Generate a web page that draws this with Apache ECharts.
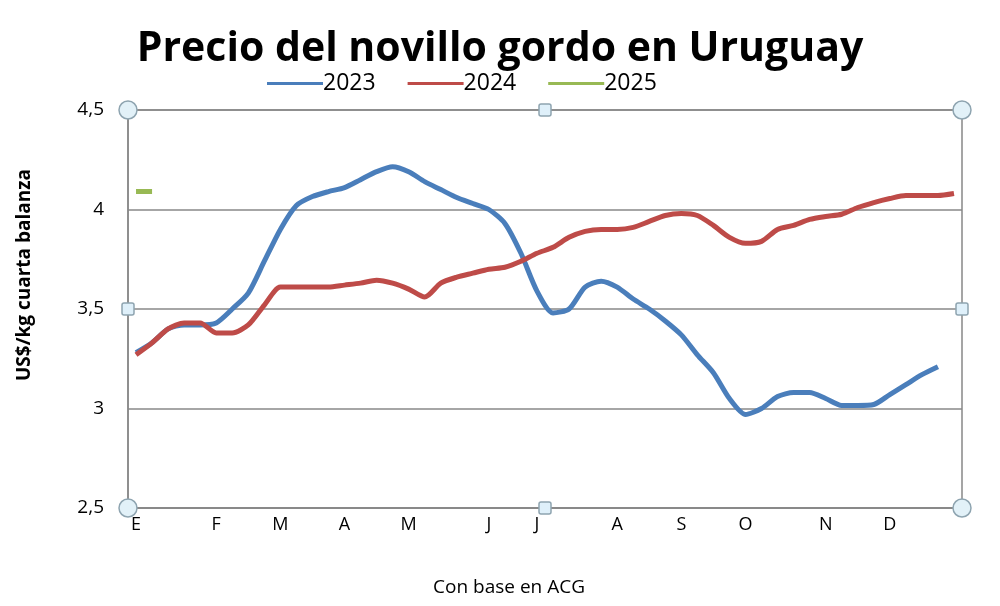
<!DOCTYPE html>
<html>
<head>
<meta charset="utf-8">
<script src="https://cdn.jsdelivr.net/npm/echarts@6/dist/echarts.min.js"></script>
<style>
  html, body { margin: 0; padding: 0; background: #fff; }
  #main { width: 1000px; height: 606px; }
</style>
</head>
<body>
<div id="main"></div>
<script>
// weekly positions 0..51, month letters on some weeks
var weeks = [];
for (var w = 0; w < 52; w++) weeks.push('S' + (w + 1));
var monthTicks = { 0: 'E', 5: 'F', 9: 'M', 13: 'A', 17: 'M', 22: 'J', 25: 'J', 30: 'A', 34: 'S', 38: 'O', 43: 'N', 47: 'D' };

var y2023 = [3.28, 3.33, 3.40, 3.42, 3.42, 3.43, 3.50, 3.58, 3.74, 3.90,
             4.02, 4.065, 4.09, 4.11, 4.15, 4.19, 4.215, 4.19, 4.14, 4.10,
             4.06, 4.03, 4.00, 3.93, 3.78, 3.59, 3.48, 3.50, 3.61, 3.64,
             3.61, 3.55, 3.50, 3.44, 3.37, 3.27, 3.18, 3.05, 2.97, 3.00,
             3.06, 3.08, 3.08, 3.05, 3.015, 3.015, 3.02, 3.07, 3.12, 3.17,
             3.21, null];
var y2024 = [3.27, 3.33, 3.40, 3.43, 3.43, 3.38, 3.38, 3.42, 3.52, 3.61,
             3.61, 3.61, 3.61, 3.62, 3.63, 3.645, 3.63, 3.60, 3.56, 3.63,
             3.66, 3.68, 3.70, 3.71, 3.74, 3.78, 3.81, 3.86, 3.89, 3.90,
             3.90, 3.91, 3.94, 3.97, 3.98, 3.97, 3.92, 3.86, 3.83, 3.84,
             3.90, 3.92, 3.95, 3.965, 3.976, 4.01, 4.035, 4.055, 4.07, 4.07,
             4.07, 4.08];
var y2025 = [4.09, 4.09];

var chart = echarts.init(document.getElementById('main'));

var L = 128, T = 110, R = 962, B = 508;
function handle(x, y, round) {
  if (round) {
    return { type: 'circle', shape: { cx: x, cy: y, r: 9 },
      style: { fill: '#e2f1f8', stroke: '#8ea4b0', lineWidth: 1.5 }, z: 100 };
  }
  return { type: 'rect', shape: { x: x - 6, y: y - 6, width: 12, height: 12, r: 2 },
    style: { fill: '#dff0fa', stroke: '#8ea4b0', lineWidth: 1.5 }, z: 100 };
}

chart.setOption({
  animation: false,
  title: {
    text: 'Precio del novillo gordo en Uruguay',
    left: 'center',
    top: 24,
    textStyle: { fontFamily: 'Open Sans', fontWeight: 'bold', fontSize: 41, color: '#000' }
  },
  legend: {
    top: 67,
    left: 262,
    icon: 'rect',
    itemWidth: 56,
    itemHeight: 3,
    itemGap: 32,
    textStyle: { fontFamily: 'Open Sans', fontSize: 23, color: '#000', padding: [0, 0, 0, -5] },
    data: ['2023', '2024', '2025']
  },
  grid: {
    left: L, top: T, right: 1000 - R, bottom: 606 - B,
    show: true, borderColor: '#888', borderWidth: 1.5
  },
  xAxis: {
    type: 'category',
    data: weeks,
    boundaryGap: true,
    name: 'Con base en ACG',
    nameLocation: 'middle',
    nameGap: 70,
    nameTextStyle: { fontFamily: 'Open Sans', fontSize: 19, color: '#000', padding: [0, 72, 0, 0] },
    axisLine: { lineStyle: { color: '#888', width: 1.5 } },
    axisTick: { show: false },
    axisLabel: {
      interval: 0,
      margin: 8,
      fontFamily: 'Open Sans',
      fontSize: 18,
      color: '#000',
      formatter: function (v, i) { return monthTicks[i] || ''; }
    }
  },
  yAxis: {
    type: 'value',
    min: 2.5,
    max: 4.5,
    interval: 0.5,
    name: 'US$/kg cuarta balanza',
    nameLocation: 'middle',
    nameGap: 94,
    nameTextStyle: { fontFamily: 'Open Sans', fontWeight: 'bold', fontSize: 19, color: '#000', padding: [0, 0, 0, 68] },
    axisLine: { show: true, lineStyle: { color: '#888', width: 1.5 } },
    axisTick: { show: false },
    splitLine: { lineStyle: { color: '#888', width: 1.5 } },
    axisLabel: {
      margin: 24,
      fontFamily: 'Open Sans',
      fontSize: 19,
      color: '#000',
      formatter: function (v) { return String(v).replace('.', ','); }
    }
  },
  series: [
    { name: '2023', type: 'line', data: y2023, smooth: 0.25, showSymbol: false,
      lineStyle: { color: '#4a7ebb', width: 5 }, itemStyle: { color: '#4a7ebb' } },
    { name: '2024', type: 'line', data: y2024, smooth: 0.25, showSymbol: false,
      lineStyle: { color: '#be4b48', width: 5 }, itemStyle: { color: '#be4b48' } },
    { name: '2025', type: 'line', data: y2025, showSymbol: false,
      lineStyle: { color: '#98b954', width: 5 }, itemStyle: { color: '#98b954' } }
  ],
  graphic: [
    handle(L, T, true), handle(R, T, true), handle(L, B, true), handle(R, B, true),
    handle((L + R) / 2, T, false), handle((L + R) / 2, B, false),
    handle(L, (T + B) / 2, false), handle(R, (T + B) / 2, false)
  ]
});
</script>
</body>
</html>
